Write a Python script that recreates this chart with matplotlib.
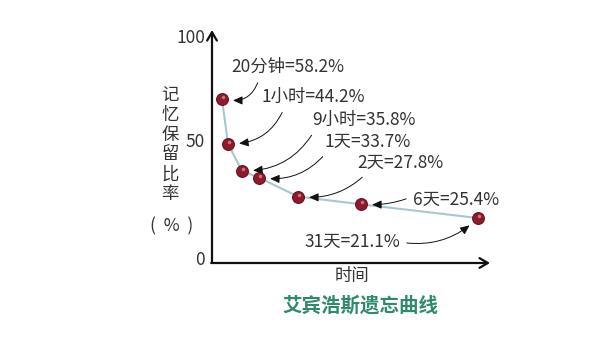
import matplotlib
matplotlib.use("Agg")
import matplotlib.pyplot as plt

plt.rcParams['font.family'] = ['Noto Sans CJK SC', 'DejaVu Sans']

x_pos = [10, 16, 30, 47, 86, 149, 266]
retention = [58.2, 44.2, 35.8, 33.7, 27.8, 25.4, 21.1]
labels = ['20分钟=58.2%', '1小时=44.2%', '9小时=35.8%', '1天=33.7%',
          '2天=27.8%', '6天=25.4%', '31天=21.1%']
ytick_labels = ['0', '50', '100']

W, H = 614, 359
fig = plt.figure(figsize=(W / 100, H / 100), dpi=100)
ax = fig.add_axes([212 / W, 1 - 263 / H, 278 / W, 233 / H])
ax.set_xlim(0, 278)
ax.set_ylim(7.1, 79.7)
for s in ax.spines.values():
    s.set_visible(False)
ax.set_xticks([])
ax.set_yticks([])

# axes with open arrowheads
ax.annotate('', xy=(0, 1.0), xytext=(0, 0), xycoords='axes fraction',
            arrowprops=dict(arrowstyle='->,head_length=0.6,head_width=0.35', lw=1.6, color='#111111',
                            shrinkA=0, shrinkB=0))
ax.annotate('', xy=(1.0, 0), xytext=(-0.003, 0), xycoords='axes fraction',
            arrowprops=dict(arrowstyle='->,head_length=0.6,head_width=0.35', lw=1.6, color='#111111',
                            shrinkA=0, shrinkB=0))

# schematic tick labels
for lab, fy in zip(ytick_labels, [0.013, 0.519, 0.966]):
    ax.text(-0.025, fy, lab, transform=ax.transAxes, ha='right', va='center',
            fontsize=12.5, color='#333333')

# curve + markers
ax.plot(x_pos, retention, color='#a3c9cf', lw=1.5, zorder=2)
ax.plot(x_pos, retention, 'o', ms=8.5, mfc='#8e1b2b', mec='#6a1020', mew=0.8, zorder=3)
ax.plot([x + 1.2 for x in x_pos], [r + 0.6 for r in retention], 'o', ms=2.5,
        mfc='#d98a92', mec='none', alpha=0.8, zorder=4)

# label offsets (pixels, relative to each point) and arrow settings
text_off = [(66, 32), (85, 47), (122, 51), (109, 36), (102, 34), (95, 4), (-126, -24)]
rel = [(0.25, 0.0), (0.23, 0.0), (0.03, 0.0), (0.05, 0.1), (0.13, 0.0), (0.12, 1.0), (1.0, 0.5)]
rads = [-0.5, -0.35, -0.3, -0.3, -0.25, -0.15, 0.25]
for x, y, lab, (dx, dy), rp, rad in zip(x_pos, retention, labels, text_off, rel, rads):
    ax.annotate(lab, xy=(x, y), xytext=(dx / 1.389, dy / 1.389), textcoords='offset points',
                ha='center', va='center', fontsize=12.5, color='#333333',
                arrowprops=dict(arrowstyle='-|>,head_length=0.45,head_width=0.2', lw=0.7,
                                color='#111111', relpos=rp, shrinkA=3, shrinkB=8,
                                connectionstyle=f'arc3,rad={rad}'))

# y label, stacked vertically
for i, ch in enumerate('记忆保留比率'):
    fig.text(170 / W, 1 - (95 + i * 19.8) / H, ch, ha='center', va='center',
             fontsize=12.5, color='#333333')
fig.text(172 / W, 1 - 226 / H, '(  %  )', ha='center', va='center', fontsize=12.5, color='#333333')

fig.text(352 / W, 1 - 276 / H, '时间', ha='center', va='center', fontsize=12.5, color='#333333')
fig.text(360 / W, 1 - 306 / H, '艾宾浩斯遗忘曲线', ha='center', va='center', fontsize=14,
         fontweight='bold', color='#2f8a6c')

fig.savefig('out.png', dpi=100)
